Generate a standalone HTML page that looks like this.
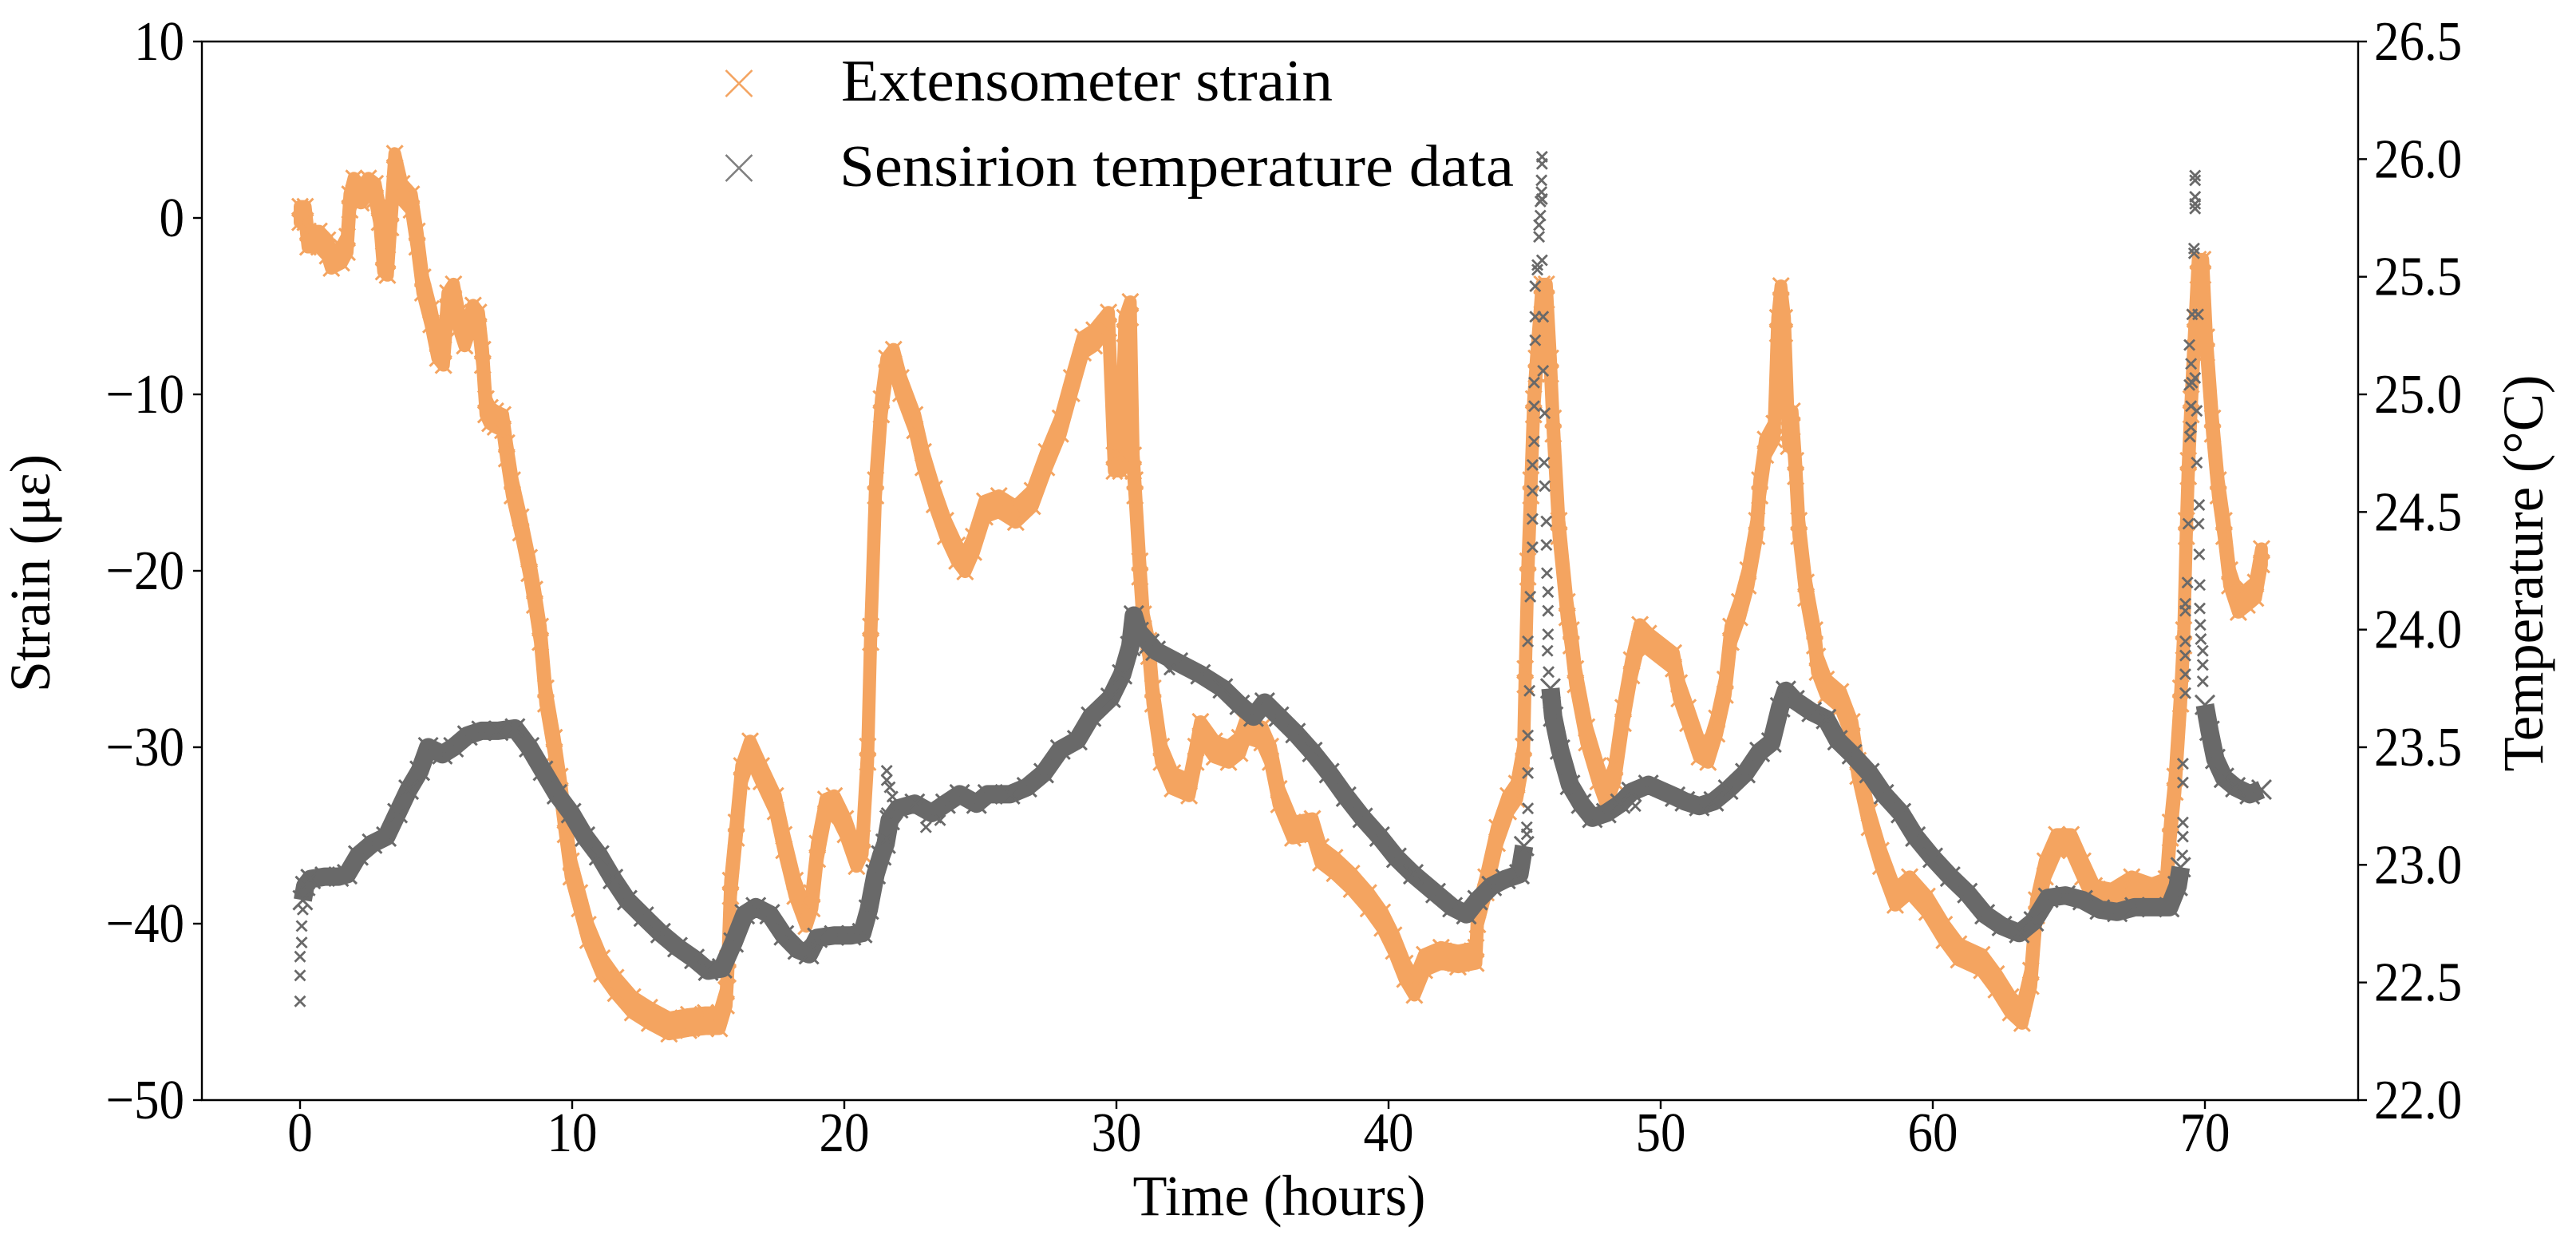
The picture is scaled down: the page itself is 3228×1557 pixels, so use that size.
<!DOCTYPE html>
<html lang="en">
<head>
<meta charset="utf-8">
<title>Extensometer strain and Sensirion temperature</title>
<style>
html,body{margin:0;padding:0;background:#fff;}
svg{display:block;}
text{font-family:"Liberation Serif",serif;fill:#000;}
</style>
</head>
<body>
<svg id="chart" xmlns="http://www.w3.org/2000/svg" width="3228" height="1557" viewBox="0 0 3228 1557">
  <rect x="0" y="0" width="3228" height="1557" fill="#ffffff"/>
  <g id="strain-layer"></g>
  <g id="temp-layer"></g>
  <g id="axes-layer"></g>
  <text x="1603" y="1522" font-size="72" text-anchor="middle" textLength="367" lengthAdjust="spacingAndGlyphs">Time (hours)</text>
  <text transform="translate(62,718) rotate(-90)" font-size="72" text-anchor="middle" textLength="298" lengthAdjust="spacingAndGlyphs">Strain (με)</text>
  <text transform="translate(3186,718) rotate(-90)" font-size="72" text-anchor="middle" textLength="497" lengthAdjust="spacingAndGlyphs">Temperature (°C)</text>
  <g>
    <path d="M909.5 88L942.5 121M942.5 88L909.5 121" stroke="#F4A460" stroke-width="2.6" fill="none"/>
    <text x="1054" y="126" font-size="74" textLength="616" lengthAdjust="spacingAndGlyphs">Extensometer strain</text>
    <path d="M909.5 194L942.5 227M942.5 194L909.5 227" stroke="#696969" stroke-opacity="0.85" stroke-width="2.6" fill="none"/>
    <text x="1052" y="233" font-size="74" textLength="845" lengthAdjust="spacingAndGlyphs">Sensirion temperature data</text>
  </g>
</svg>
<script>
const xTicks = [0, 10, 20, 30, 40, 50, 60, 70];
const strainTicks = [10, 0, -10, -20, -30, -40, -50];
const tempTicks = [26.5, 26.0, 25.5, 25.0, 24.5, 24.0, 23.5, 23.0, 22.5, 22.0];

const strainTimes = [0,0.19,0.29,0.7,1.01,1.15,1.52,1.73,1.83,1.98,2.24,2.51,2.76,2.92,3.07,3.21,3.33,3.48,3.74,4.09,4.3,4.51,4.81,5.06,5.27,5.43,5.64,5.84,6.05,6.36,6.56,6.71,6.83,6.98,7.18,7.45,7.59,7.8,8.11,8.42,8.62,8.83,9.03,9.34,9.55,9.75,9.96,10.27,10.58,11.09,11.6,12.22,12.84,13.56,14.28,14.9,15.41,15.66,15.72,15.82,16.03,16.23,16.54,16.95,17.47,17.78,18.19,18.6,18.81,19.01,19.32,19.63,20.04,20.45,20.66,20.86,20.97,21.15,21.36,21.56,21.81,22.08,22.59,22.9,23.31,23.72,24.14,24.44,24.75,25.16,25.68,26.3,26.91,27.43,27.94,28.35,28.77,29.18,29.71,29.92,30.16,30.31,30.51,30.62,30.68,30.86,30.99,31.19,31.34,31.65,32.06,32.67,32.92,33.09,33.6,34.12,34.53,34.73,35.35,35.66,35.97,36.48,37.2,37.51,38.02,38.64,39.26,39.77,40.19,40.6,40.95,41.32,41.93,42.55,43.21,43.27,43.58,43.99,44.4,44.71,44.96,45.02,45.12,45.23,45.33,45.43,45.64,45.8,45.95,46.05,46.26,46.56,46.71,46.87,47.28,47.7,48,48.31,48.62,48.93,49.24,49.55,50.47,50.68,51,51.42,51.74,52.06,52.37,52.58,52.9,53.21,53.53,53.64,53.85,54.17,54.3,54.42,54.55,54.7,54.83,54.96,55.08,55.34,55.66,55.76,56.08,56.61,57.03,57.25,57.67,58.09,58.62,59.15,59.79,60.42,60.95,61.8,62.33,62.86,63.28,63.6,63.81,64.13,64.55,65.08,65.51,65.93,66.57,67.31,68.05,68.58,68.73,68.9,69.11,69.22,69.32,69.39,69.49,69.64,69.75,69.92,70.06,70.28,70.49,70.7,70.91,71.23,71.55,71.86,72.08];
const strainValues = [0.2,0.2,-1.2,-1.2,-1.7,-2.4,-2.1,-1.5,0.9,1.8,1.3,1.8,1.5,0.2,-2.6,-2.8,-0.1,3.2,1.5,0.9,-1.2,-3.8,-5.6,-7.5,-7.9,-4.7,-4.2,-5.8,-6.8,-5.4,-5.8,-7.9,-10.7,-11.2,-11.4,-11.6,-13.2,-15.3,-17.4,-19.7,-21.5,-23.6,-27.1,-29.9,-32.1,-34.5,-36.9,-38.7,-40.5,-42.4,-43.5,-44.6,-45.2,-45.8,-45.6,-45.5,-45.5,-44.2,-42.4,-38,-34.7,-31.5,-30.1,-31.5,-33.2,-35.4,-38,-39.7,-38.7,-35.9,-33.4,-33.2,-34.5,-36.3,-35.6,-30.4,-23.6,-15.3,-10.7,-8.4,-7.9,-9.5,-11.6,-13.7,-15.8,-17.6,-19,-19.6,-18.5,-16.5,-16.2,-16.8,-15.9,-13.7,-11.8,-9.5,-7.2,-6.8,-5.8,-13.9,-13.9,-6.1,-5.2,-13.9,-15.3,-19.9,-22.9,-24.4,-27.1,-30.4,-31.9,-32.3,-30.4,-29,-30.1,-30.4,-29.9,-29,-29.3,-30.4,-32.8,-34.7,-34.5,-36.1,-36.7,-37.6,-38.7,-39.8,-41.1,-42.7,-43.6,-42.2,-41.8,-42,-41.8,-39.6,-37.8,-35,-33.2,-32.5,-30.4,-26,-19.9,-15.3,-10.7,-8.4,-4.2,-4.2,-8.4,-11.8,-17.6,-22.2,-23.8,-26,-29.3,-31.5,-32.8,-31.5,-28.2,-25.5,-23.5,-24,-25.1,-26.8,-28.2,-30.1,-30.4,-28.8,-26.6,-23.6,-22.2,-20.4,-17.6,-15.3,-13,-12.1,-6.1,-4.3,-6.1,-12.5,-11.4,-14.2,-17.6,-21.1,-23.8,-25.3,-26.6,-27.3,-29,-31.2,-34.1,-36.3,-38.5,-37.8,-38.9,-40.5,-41.6,-42.2,-43.3,-44.6,-45.2,-43.1,-39.1,-36.9,-35.4,-35.4,-36.9,-38.3,-38.5,-37.8,-38.2,-37.9,-34.7,-32.1,-27.1,-23.8,-17.6,-14.2,-10.7,-6.1,-2.8,-2.8,-7.2,-11.8,-15.3,-17.6,-20.4,-21.9,-21.5,-21.1,-19.2];

const tempTimes = [0.1,0.19,0.39,0.91,1.42,1.73,2.14,2.65,3.17,3.58,3.99,4.4,4.71,5.23,5.64,6.15,6.67,7.28,7.9,8.42,8.93,9.44,9.96,10.47,10.99,11.5,12.02,12.63,13.25,13.87,14.49,15,15.51,15.93,16.34,16.75,17.26,17.78,18.29,18.7,19.01,19.63,20.25,20.66,20.9,21.15,21.36,21.52,21.67,21.98,22.59,23.21,23.72,24.24,24.86,25.27,26.09,26.71,27.33,27.94,28.56,29.07,29.79,30.21,30.51,30.64,30.82,31.21,31.44,32.26,33.09,33.91,34.53,35.04,35.45,35.97,36.58,37.2,37.82,38.44,39.05,39.67,40.29,40.91,41.73,42.35,42.86,43.27,43.79,44.3,44.81,44.98,45.5,45.95,46.05,46.3,46.67,47.08,47.49,48,48.52,48.93,49.55,50.53,50.89,51.42,51.95,52.48,53.11,53.64,54.07,54.39,54.6,54.92,55.55,56.08,56.5,57.03,57.67,58.2,58.83,59.36,60,60.64,61.27,61.91,62.54,63.18,63.71,64.24,64.87,65.51,66.14,66.78,67.42,68.05,68.69,69,69.11,69.5,70,70.17,70.38,70.7,71.12,71.65,72.08];
const tempValues = [22.85,22.91,22.94,22.95,22.95,22.96,23.04,23.09,23.12,23.22,23.32,23.4,23.5,23.47,23.5,23.55,23.57,23.57,23.58,23.5,23.4,23.3,23.22,23.12,23.04,22.94,22.85,22.78,22.71,22.65,22.6,22.55,22.56,22.67,22.79,22.82,22.79,22.7,22.64,22.62,22.69,22.7,22.7,22.71,22.81,22.96,23.04,23.09,23.19,23.24,23.26,23.22,23.26,23.3,23.26,23.3,23.3,23.33,23.39,23.49,23.53,23.63,23.71,23.81,23.93,24.06,23.99,23.94,23.91,23.86,23.81,23.75,23.68,23.63,23.69,23.63,23.56,23.48,23.39,23.29,23.2,23.12,23.03,22.96,22.88,22.82,22.79,22.85,22.91,22.94,22.96,23.08,null,23.75,23.63,23.49,23.34,23.26,23.2,23.22,23.26,23.31,23.34,23.29,23.27,23.25,23.27,23.32,23.39,23.48,23.52,23.67,23.74,23.7,23.65,23.62,23.53,23.47,23.39,23.3,23.22,23.12,23.03,22.95,22.88,22.79,22.74,22.71,22.76,22.86,22.87,22.85,22.81,22.8,22.82,22.82,22.82,22.91,22.99,null,23.68,23.57,23.45,23.37,23.33,23.3,23.32];

const tempSparseTimes = [0,0,0,0.06,0.06,0.1,21.56,21.56,21.56,21.56,21.67,21.77,23,23.52,31.95,49.07,45.08,45.08,45.12,45.12,45.12,45.18,45.12,45.86,45.86,45.86,45.21,45.82,45.8,45.29,45.8,45.29,45.29,45.74,45.29,45.72,45.35,45.74,45.35,45.35,45.68,45.39,45.39,45.68,45.39,45.47,45.47,45.64,45.53,45.53,45.58,45.58,45.64,45.62,45.62,45.64,45.64,45.84,45.88,69.17,69.19,69.19,69.19,69.19,69.28,69.28,69.28,69.28,69.28,69.28,69.36,69.81,69.81,69.83,69.39,69.77,69.79,69.79,69.7,69.45,69.49,69.7,69.49,69.43,69.53,69.64,69.49,69.43,69.53,69.75,69.6,69.6,69.64,69.64,69.64,69.64,69.64,69.85,69.92,69.92,69.92];
const tempSparseValues = [22.42,22.53,22.61,22.67,22.74,22.81,23.11,23.22,23.36,23.4,23.33,23.29,23.16,23.19,23.83,23.25,23.13,23.16,23.24,23.39,23.55,23.74,23.95,23.98,24.08,24.16,24.14,24.24,24.36,24.35,24.46,24.47,24.59,24.61,24.7,24.71,24.8,24.92,24.95,25.05,25.1,25.23,25.33,25.33,25.46,25.53,25.55,25.57,25.67,25.72,25.76,25.82,25.83,25.86,25.91,25.98,26.01,23.91,23.82,23.04,23.12,23.18,23.35,23.43,23.73,23.81,23.89,23.95,24.08,24.11,24.2,24.19,24.09,24.02,24.45,24.45,24.32,24.53,24.71,24.82,24.86,24.93,24.95,25.04,25.05,25.07,25.13,25.21,25.34,25.34,25.6,25.62,25.79,25.81,25.84,25.91,25.93,23.96,23.91,23.85,23.78];

const strainNoise = 0.45;
const plot = {left: 253, right: 2955, top: 52, bottom: 1378};
const NS = 'http://www.w3.org/2000/svg';
function xScale(t){ return 376 + 34.1 * t; }
function strainScale(v){ return plot.top + (10 - v) * (plot.bottom - plot.top) / 60; }
function tempScale(v){ return plot.top + (26.5 - v) * (plot.bottom - plot.top) / 4.5; }
function crossPath(x, y, r){
  return 'M' + (x-r) + ' ' + (y-r) + 'L' + (x+r) + ' ' + (y+r) + 'M' + (x+r) + ' ' + (y-r) + 'L' + (x-r) + ' ' + (y+r);
}
function make(tag, parent, attrs){
  const el = document.createElementNS(NS, tag);
  for (const k in attrs) el.setAttribute(k, attrs[k]);
  parent.appendChild(el);
  return el;
}

// strain band and markers
const strainLayer = document.getElementById('strain-layer');
let upper = [], lower = [];
strainTimes.forEach(function(t, i){
  upper.push(xScale(t).toFixed(1) + ',' + strainScale(strainValues[i] + strainNoise).toFixed(1));
  lower.unshift(xScale(t).toFixed(1) + ',' + strainScale(strainValues[i] - strainNoise).toFixed(1));
});
const strainBand = make('polygon', strainLayer, {points: upper.concat(lower).join(' '), fill: '#F4A460', stroke: '#F4A460', 'stroke-width': 16, 'stroke-linejoin': 'round'});


strainTimes.forEach(function(t, i){
  const x = xScale(t);
  const d = crossPath(x, strainScale(strainValues[i] + strainNoise), 10) + crossPath(x, strainScale(strainValues[i] - strainNoise), 10);
  const m = make('path', strainLayer, {d: d, stroke: '#F4A460', 'stroke-width': 3, fill: 'none'});
  
  
});

// temperature band and markers
const tempLayer = document.getElementById('temp-layer');
let seg = [], tempLine = '';
tempTimes.forEach(function(t, i){
  if (tempValues[i] === null) { tempLine += seg.length ? 'M' + seg.join('L') : ''; seg = []; return; }
  seg.push(xScale(t).toFixed(1) + ' ' + tempScale(tempValues[i]).toFixed(1));
});
tempLine += seg.length ? 'M' + seg.join('L') : '';
const tempBand = make('path', tempLayer, {d: tempLine, fill: 'none', stroke: '#696969', 'stroke-width': 23, 'stroke-linejoin': 'round', 'stroke-linecap': 'butt'});


tempTimes.forEach(function(t, i){
  if (tempValues[i] === null) return;
  const m = make('path', tempLayer, {d: crossPath(xScale(t), tempScale(tempValues[i]), 12), stroke: '#696969', 'stroke-width': 3, fill: 'none'});
  
  
});
tempSparseTimes.forEach(function(t, i){
  const m = make('path', tempLayer, {d: crossPath(xScale(t), tempScale(tempSparseValues[i]), 6.5), stroke: '#696969', 'stroke-width': 2.8, fill: 'none'});
  
  
});

// axes
const axes = document.getElementById('axes-layer');
const frame = make('path', axes, {d: 'M' + plot.left + ' ' + plot.top + 'H' + plot.right + 'V' + plot.bottom + 'H' + plot.left + 'Z', fill: 'none', stroke: '#000', 'stroke-width': 2.4});



function label(txt, x, y, anchor, name){
  const el = make('text', axes, {x: x, y: y, 'font-size': 70, 'text-anchor': anchor});
  el.textContent = txt;
  
  
  el.setAttribute('textLength', (el.getComputedTextLength() * 0.9).toFixed(1));
  el.setAttribute('lengthAdjust', 'spacingAndGlyphs');
  return el;
}
xTicks.forEach(function(t){
  const x = xScale(t);
  const tk = make('line', axes, {x1: x, x2: x, y1: plot.bottom, y2: plot.bottom + 11, stroke: '#000', 'stroke-width': 2.4});
  
  
  label(String(t), x, 1442, 'middle', 'x-tick-label');
});
strainTicks.forEach(function(v){
  const y = strainScale(v);
  const tk = make('line', axes, {x1: plot.left - 11, x2: plot.left, y1: y, y2: y, stroke: '#000', 'stroke-width': 2.4});
  
  
  label(String(v).replace('-', '\u2212'), 231, y + 23, 'end', 'left-y-tick-label');
});
tempTicks.forEach(function(v){
  const y = tempScale(v);
  const tk = make('line', axes, {x1: plot.right, x2: plot.right + 11, y1: y, y2: y, stroke: '#000', 'stroke-width': 2.4});
  
  
  label(v.toFixed(1), 2975, y + 23, 'start', 'right-y-tick-label');
});
</script>
</body>
</html>
